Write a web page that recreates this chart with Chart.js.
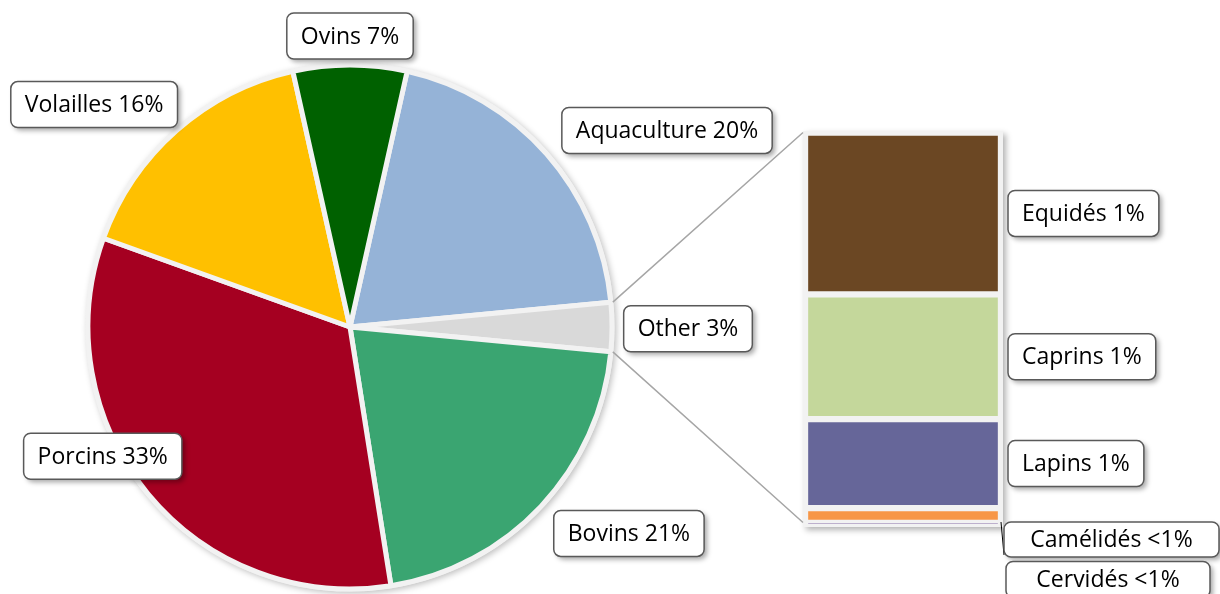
<!DOCTYPE html>
<html>
<head>
<meta charset="utf-8">
<title>Production by species</title>
<script src="https://cdn.jsdelivr.net/npm/chart.js@4.4.1/dist/chart.umd.min.js"></script>
<style>
  html, body { margin: 0; padding: 0; background: #fff; }
  #wrap { position: relative; width: 1220px; height: 594px; overflow: hidden; }
  #wrap canvas { position: absolute; left: 0; top: 0; }
</style>
</head>
<body>
<div id="wrap">
  <canvas id="bar-graph" width="1220" height="594"></canvas>
  <canvas id="pie-graph" width="1220" height="594"></canvas>
</div>
<script>
// main pie
const pieLabels = ["Aquaculture", "Other", "Bovins", "Porcins", "Volailles", "Ovins"];
const pieValues = [20, 3, 21, 33, 16, 7];
const pieColors = ["#95B3D7", "#D9D9D9", "#3AA571", "#A50021", "#FFC000", "#006100"];

// breakdown of "Other" shown in the stacked bar
const otherLabels = ["Equidés", "Caprins", "Lapins", "Camélidés", "Cervidés"];
const otherValues = [1.09, 0.84, 0.6, 0.1, 0.01];
const otherColors = ["#6B4723", "#C4D79B", "#666699", "#F79646", "#8064A2"];

const FONT = '23px "Open Sans", "Noto Sans", sans-serif';
const SEP = "#F2F2F2";

// label placement around the pie: [angle in degrees, distance from centre]
const pieLabelPos = {
  Aquaculture: [-31.8, 373],
  Other: [0.3, 338],
  Bovins: [36.5, 347],
  Porcins: [152.4, 279],
  Volailles: [221, 339],
  Ovins: [270, 291],
};

// small labels below the bar sit under its bottom edge
const barLabelPos = {
  Camélidés: { dx: 3, dyBottom: 15, w: 215, h: 35 },
  Cervidés: { dx: 5, dyBottom: 55, w: 204, h: 36 },
};

const pct = (v) => (v < 0.5 ? "<1%" : Math.round(v) + "%");
const sum = (arr) => arr.reduce((a, b) => a + b, 0);

const drawLabelBox = (ctx, text, cx, cy, w, h) => {
  ctx.save();
  ctx.font = FONT;
  const tw = ctx.measureText(text).width;
  const bw = w || tw + 28;
  const bh = h || 46;
  const x = cx - bw / 2;
  const y = cy - bh / 2;
  ctx.beginPath();
  ctx.roundRect(x, y, bw, bh, 7);
  ctx.shadowColor = "rgba(0,0,0,0.35)";
  ctx.shadowBlur = 5;
  ctx.shadowOffsetX = 3;
  ctx.shadowOffsetY = 3;
  ctx.fillStyle = "#fff";
  ctx.fill();
  ctx.shadowColor = "transparent";
  ctx.lineWidth = 1.5;
  ctx.strokeStyle = "#595959";
  ctx.stroke();
  ctx.fillStyle = "#000";
  ctx.textAlign = "center";
  ctx.textBaseline = "middle";
  ctx.fillText(text, cx, cy + 1);
  ctx.restore();
  return { x, y, w: bw, h: bh };
};

const otherTotal = sum(otherValues);

const barPanel = {
  id: "barPanel",
  beforeDatasetsDraw(chart) {
    const { ctx, chartArea: a } = chart;
    ctx.save();
    ctx.shadowColor = "rgba(0,0,0,0.3)";
    ctx.shadowBlur = 6;
    ctx.shadowOffsetX = 3;
    ctx.shadowOffsetY = 3;
    ctx.fillStyle = SEP;
    ctx.fillRect(a.left - 2, a.top - 1.5, a.width + 4, a.height + 4);
    ctx.restore();
  },
};

const barLabels = {
  id: "barLabels",
  afterDatasetsDraw(chart) {
    const { ctx, chartArea: a } = chart;
    otherLabels.forEach((label, i) => {
      const bar = chart.getDatasetMeta(i).data[0];
      const text = label + " " + pct(otherValues[i]);
      const pos = barLabelPos[label];
      ctx.save();
      ctx.font = FONT;
      const tw = ctx.measureText(text).width;
      ctx.restore();
      if (pos) {
        const left = a.right + pos.dx;
        const cy = a.bottom + pos.dyBottom;
        if (i === 3) {
          // leader line from the thin segment to its label
          ctx.save();
          ctx.strokeStyle = "#000";
          ctx.lineWidth = 1;
          ctx.beginPath();
          ctx.moveTo(a.right, bar.y - 1);
          ctx.lineTo(left, cy + pos.h / 2 - 2);
          ctx.stroke();
          ctx.restore();
        }
        drawLabelBox(ctx, text, left + pos.w / 2, cy, pos.w, pos.h);
      } else {
        const mid = (bar.y + bar.base) / 2;
        const bw = tw + 28;
        drawLabelBox(ctx, text, a.right + 7 + bw / 2, mid);
      }
    });
  },
};

const barChart = new Chart(document.querySelector("#bar-graph"), {
  type: "bar",
  data: {
    labels: ["Other"],
    datasets: otherLabels.map((label, i) => ({
      label: label,
      data: [otherValues[i]],
      backgroundColor: otherColors[i],
      borderColor: SEP,
      borderWidth: 3.5,
      borderSkipped: false,
      barPercentage: 1,
      categoryPercentage: 1,
    })),
  },
  options: {
    responsive: false,
    animation: false,
    layout: { padding: { left: 805, right: 219, top: 132.5, bottom: 69.5 } },
    scales: {
      x: { stacked: true, display: false },
      y: { stacked: true, display: false, reverse: true, min: 0, max: otherTotal },
    },
    plugins: { legend: { display: false }, tooltip: { enabled: false } },
  },
  plugins: [barPanel, barLabels],
});

const pieTotal = sum(pieValues);
// turn the pie so the "Other" slice points at the bar
const otherIdx = pieLabels.indexOf("Other");
const before = sum(pieValues.slice(0, otherIdx)) + pieValues[otherIdx] / 2;
const pieRotation = 90 - (before / pieTotal) * 360;

const pieDecor = {
  id: "pieDecor",
  beforeDatasetsDraw(chart) {
    const { ctx } = chart;
    const arc = chart.getDatasetMeta(0).data[0];
    ctx.save();
    ctx.shadowColor = "rgba(0,0,0,0.25)";
    ctx.shadowBlur = 6;
    ctx.shadowOffsetX = 2;
    ctx.shadowOffsetY = 2;
    ctx.fillStyle = SEP;
    ctx.beginPath();
    ctx.arc(arc.x, arc.y, arc.outerRadius + 2.5, 0, Math.PI * 2);
    ctx.fill();
    ctx.restore();
  },
  afterDatasetsDraw(chart) {
    const { ctx } = chart;
    const arcs = chart.getDatasetMeta(0).data;
    const other = arcs[otherIdx];
    const a = barChart.chartArea;
    const r = other.outerRadius + 2;

    // connectors from the "Other" slice to the bar
    ctx.save();
    ctx.strokeStyle = "#A6A6A6";
    ctx.lineWidth = 1.5;
    ctx.beginPath();
    ctx.moveTo(other.x + r * Math.cos(other.startAngle), other.y + r * Math.sin(other.startAngle));
    ctx.lineTo(a.left - 2, a.top);
    ctx.moveTo(other.x + r * Math.cos(other.endAngle), other.y + r * Math.sin(other.endAngle));
    ctx.lineTo(a.left - 2, a.bottom - 2);
    ctx.stroke();
    ctx.restore();

    pieLabels.forEach((label, i) => {
      const [deg, dist] = pieLabelPos[label];
      const t = (deg * Math.PI) / 180;
      const cx = arcs[i].x + dist * Math.cos(t);
      const cy = arcs[i].y + dist * Math.sin(t);
      drawLabelBox(ctx, label + " " + pct(pieValues[i]), cx, cy);
    });
  },
};

const pieChart = new Chart(document.querySelector("#pie-graph"), {
  type: "pie",
  data: {
    labels: pieLabels,
    datasets: [
      {
        data: pieValues,
        backgroundColor: pieColors,
        borderColor: SEP,
        borderWidth: 5,
        radius: 262,
      },
    ],
  },
  options: {
    responsive: false,
    animation: false,
    rotation: pieRotation,
    layout: { padding: { left: 80, right: 600, top: 60, bottom: 0 } },
    plugins: { legend: { display: false }, tooltip: { enabled: false } },
  },
  plugins: [pieDecor],
});
</script>
</body>
</html>
